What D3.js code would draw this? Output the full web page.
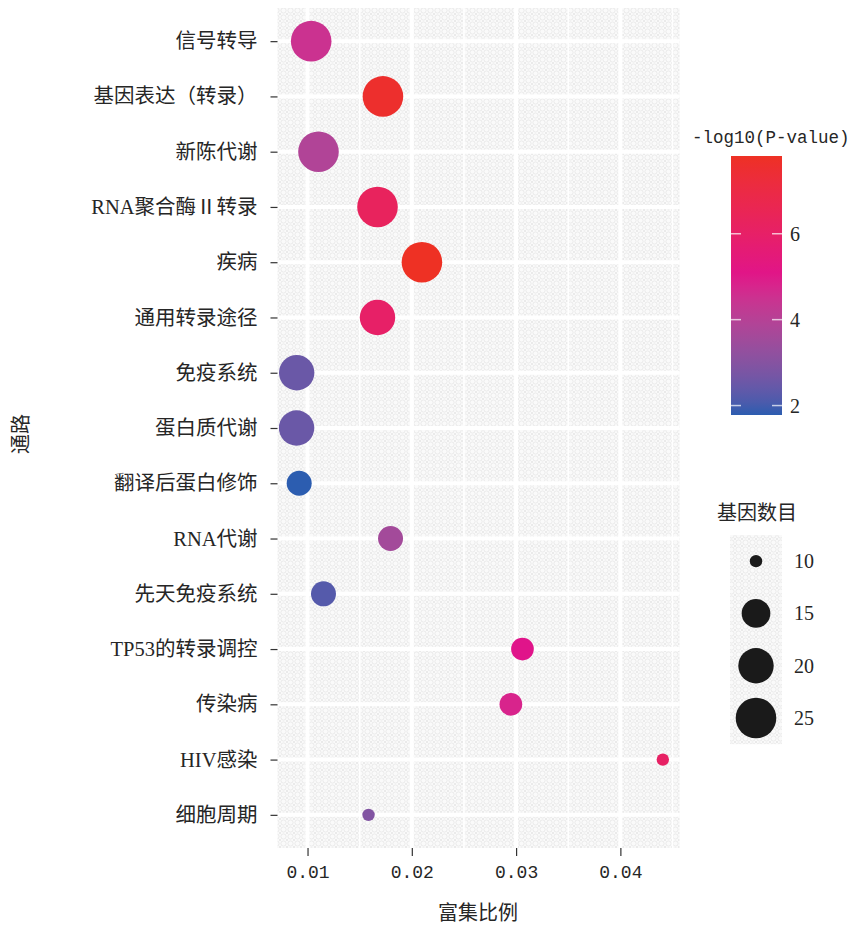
<!DOCTYPE html>
<html>
<head>
<meta charset="utf-8">
<script src="https://cdn.jsdelivr.net/npm/d3@7"></script>
<style>
  html, body { margin: 0; padding: 0; background: #fff; }
  svg { display: block; }
  text { fill: #262626; }
</style>
</head>
<body>
<svg id="chart" width="850" height="925"></svg>
<script>
// Pathway enrichment bubble chart data
const pathways = [
  "信号转导", "基因表达（转录）", "新陈代谢", "RNA聚合酶Ⅱ转录", "疾病",
  "通用转录途径", "免疫系统", "蛋白质代谢", "翻译后蛋白修饰", "RNA代谢",
  "先天免疫系统", "TP53的转录调控", "传染病", "HIV感染", "细胞周期"
];
const enrichRatio = [
  0.01035, 0.01723, 0.01105, 0.01671, 0.02097,
  0.01671, 0.00896, 0.00895, 0.00920, 0.01796,
  0.01153, 0.03061, 0.02950, 0.04407, 0.01585
];
const negLogP = [
  4.5, 7.6, 3.9, 6.3, 7.81,
  6.0, 2.5, 2.5, 1.78, 3.6,
  2.2, 5.0, 4.8, 6.1, 2.9
];
const geneCount = [
  25, 25, 25, 25, 25,
  20, 20, 20, 13, 13,
  13, 12, 12, 10, 10
];
const xTicks = [0.01, 0.02, 0.03, 0.04];
const xMinorTicks = [0.005, 0.015, 0.025, 0.035, 0.045];
const colorTicks = [2, 4, 6];
const sizeBreaks = [10, 15, 20, 25];

const latin = "'Liberation Serif', 'Noto Sans CJK SC', serif";
const mono = "'Liberation Mono', 'DejaVu Sans Mono', monospace";

const svg = d3.select("#chart");
const panel = { left: 277.5, right: 679.5, top: 8, bottom: 848 };

// halftone-like texture for the grey panel background
const defs = svg.append("defs");
const pat = defs.append("pattern")
  .attr("id", "tone").attr("patternUnits", "userSpaceOnUse")
  .attr("width", 7).attr("height", 7);
pat.append("rect").attr("width", 7).attr("height", 7).attr("fill", "#fafafa");
pat.append("circle").attr("cx", 3.5).attr("cy", 3.5).attr("r", 2.6)
  .attr("fill", "none").attr("stroke", "#e6e6e6").attr("stroke-width", 0.8);
pat.append("path").attr("d", "M0,0L1.2,1.2M7,0L5.8,1.2M0,7L1.2,5.8M7,7L5.8,5.8")
  .attr("stroke", "#e6e6e6").attr("stroke-width", 0.8);

// scales
const x = d3.scaleLinear().domain([0.00712, 0.04567]).range([panel.left, panel.right]);
const y = d3.scalePoint().domain(pathways).range([panel.top, panel.bottom]).padding(0.6);
const color = d3.scaleLinear().domain([1.78, 5.0, 7.81])
  .range(["#2c5db0", "#e0148a", "#ee3124"]).interpolate(d3.interpolateLab);
// area-style size mapping: radius grows with the square root of the rescaled count
const sizeLo = 10, sizeHi = 25, rMin = 6.2, rMax = 20.3;
const sizeT = d3.scaleLinear().domain([sizeLo, sizeHi]).range([0, 1]).clamp(true);
const radius = v => rMin + (rMax - rMin) * Math.sqrt(sizeT(v));

// panel background
svg.append("rect")
  .attr("x", panel.left).attr("y", panel.top)
  .attr("width", panel.right - panel.left).attr("height", panel.bottom - panel.top)
  .attr("fill", "url(#tone)");

// grid lines
const grid = svg.append("g");
grid.selectAll(".minor").data(xMinorTicks.filter(t => x(t) > panel.left && x(t) < panel.right))
  .join("line")
  .attr("x1", d => x(d)).attr("x2", d => x(d))
  .attr("y1", panel.top).attr("y2", panel.bottom)
  .attr("stroke", "#fff").attr("stroke-width", 1.6);
grid.selectAll(".majx").data(xTicks).join("line")
  .attr("x1", d => x(d)).attr("x2", d => x(d))
  .attr("y1", panel.top).attr("y2", panel.bottom)
  .attr("stroke", "#fff").attr("stroke-width", 4);
grid.selectAll(".majy").data(pathways).join("line")
  .attr("x1", panel.left).attr("x2", panel.right)
  .attr("y1", d => y(d)).attr("y2", d => y(d))
  .attr("stroke", "#fff").attr("stroke-width", 4);

// bubbles
const rows = pathways.map((p, i) => ({ p, r: enrichRatio[i], v: negLogP[i], n: geneCount[i] }));
svg.append("g").selectAll("circle").data(rows).join("circle")
  .attr("cx", d => x(d.r)).attr("cy", d => y(d.p))
  .attr("r", d => radius(d.n))
  .attr("fill", d => color(d.v));

// x axis
const xAxis = svg.append("g").attr("transform", `translate(0,${panel.bottom})`)
  .call(d3.axisBottom(x).tickValues(xTicks).tickSize(8).tickPadding(9)
    .tickFormat(d => d3.format(".2f")(d)));
xAxis.select(".domain").remove();
xAxis.selectAll(".tick line").attr("stroke", "#333").attr("stroke-width", 1.2);
xAxis.selectAll(".tick text").attr("font-family", mono).attr("font-size", 18)
  .attr("fill", "#262626");

// y axis
const yAxis = svg.append("g").attr("transform", `translate(${panel.left},0)`)
  .call(d3.axisLeft(y).tickSize(7).tickPadding(13));
yAxis.select(".domain").remove();
yAxis.selectAll(".tick line").attr("stroke", "#333").attr("stroke-width", 1.2);
yAxis.selectAll(".tick text").attr("font-family", latin).attr("font-size", 20.5)
  .attr("fill", "#262626");

// axis titles
svg.append("text").attr("x", 478).attr("y", 920).attr("text-anchor", "middle")
  .attr("font-family", latin).attr("font-size", 20).text("富集比例");
svg.append("text").attr("transform", "translate(28,434) rotate(-90)")
  .attr("text-anchor", "middle").attr("font-family", latin).attr("font-size", 20)
  .text("通路");

// colour bar legend
const cb = { x: 731, w: 51, top: 156, bottom: 415 };
const cbScale = d3.scaleLinear().domain([1.78, 7.81]).range([cb.bottom, cb.top]);
const grad = defs.append("linearGradient").attr("id", "cbar")
  .attr("x1", 0).attr("y1", 1).attr("x2", 0).attr("y2", 0);
d3.range(0, 1.0001, 0.05).forEach(t => {
  const v = 1.78 + t * (7.81 - 1.78);
  grad.append("stop").attr("offset", t).attr("stop-color", color(v));
});
svg.append("text").attr("x", 692).attr("y", 143)
  .attr("font-family", mono).attr("font-size", 17.5).text("-log10(P-value)");
svg.append("rect").attr("x", cb.x).attr("y", cb.top)
  .attr("width", cb.w).attr("height", cb.bottom - cb.top).attr("fill", "url(#cbar)");
const cbTicks = svg.append("g");
colorTicks.forEach(t => {
  const yy = cbScale(t);
  cbTicks.append("line").attr("x1", cb.x).attr("x2", cb.x + 10)
    .attr("y1", yy).attr("y2", yy).attr("stroke", "#fff").attr("stroke-opacity", 0.7)
    .attr("stroke-width", 1.5);
  cbTicks.append("line").attr("x1", cb.x + cb.w - 10).attr("x2", cb.x + cb.w)
    .attr("y1", yy).attr("y2", yy).attr("stroke", "#fff").attr("stroke-opacity", 0.7)
    .attr("stroke-width", 1.5);
  cbTicks.append("text").attr("x", cb.x + cb.w + 8).attr("y", yy)
    .attr("dy", "0.35em").attr("font-family", latin).attr("font-size", 20).text(t);
});

// size legend
svg.append("text").attr("x", 757).attr("y", 520).attr("text-anchor", "middle")
  .attr("font-family", latin).attr("font-size", 20).text("基因数目");
const keyTop = 535, keyH = 52.3, keyX = 730, keyW = 52;
svg.append("rect").attr("x", keyX).attr("y", keyTop)
  .attr("width", keyW).attr("height", keyH * sizeBreaks.length).attr("fill", "url(#tone)");
sizeBreaks.forEach((b, i) => {
  const cy = keyTop + keyH * (i + 0.5);
  svg.append("circle").attr("cx", keyX + keyW / 2).attr("cy", cy)
    .attr("r", radius(b)).attr("fill", "#1a1a1a");
  svg.append("text").attr("x", keyX + keyW + 12).attr("y", cy).attr("dy", "0.35em")
    .attr("font-family", latin).attr("font-size", 20).text(b);
});
</script>
</body>
</html>
